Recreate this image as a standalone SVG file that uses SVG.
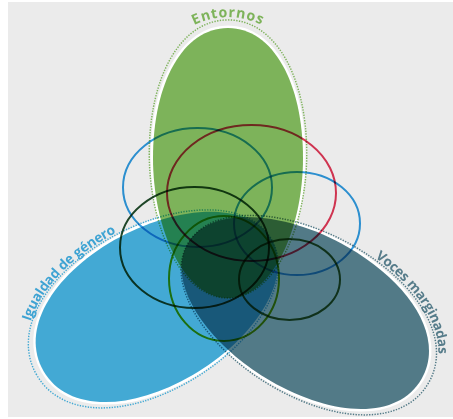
<svg xmlns="http://www.w3.org/2000/svg" width="453" height="419" viewBox="0 0 453 419">
<defs>
<path id="egg" d="M0,0 C45,0 75,55 75,130 C75,200 45,270 0,270 C-45,270 -75,200 -75,130 C-75,55 -45,0 0,0 Z"/>
<path id="arcE" d="M153,92 A75,75 0 0 1 303,92"/>
<path id="arcI" d="M0,-9.5 C49.5,-9.5 83.6,46.8 83.6,122.7 L83.6,200"/>
<path id="arcV" d="M-83,150 L-83,125.8 C-83,47.5 -50.3,-10 0,-10 L30,-10"/>
</defs>
<style>
.mx{mix-blend-mode:multiply}
.halo{fill:none;stroke:#ffffff;stroke-width:5}
.under{fill:#ebebeb}
.dot{fill:none;stroke-width:1.4;stroke-dasharray:1.3 1.3;mix-blend-mode:multiply}
.ring{fill:none;stroke-width:2;mix-blend-mode:multiply}
.lbl{font-family:"Open Sans","Liberation Sans",sans-serif;font-weight:700;font-size:13.6px;letter-spacing:-0.2px}
</style>
<rect x="0" y="0" width="453" height="419" fill="#ffffff"/>
<rect x="8" y="2" width="445" height="415" fill="#ebebeb"/>
<g id="halos">
  <use href="#egg" class="halo" transform="translate(228,28)"/>
  <use href="#egg" class="halo" transform="translate(43.5,371) rotate(-120) scale(1.04,0.975)"/>
  <use href="#egg" class="halo" transform="translate(421.5,378.9) rotate(120) scale(1.03,1)"/>
  <use href="#egg" class="under" transform="translate(228,28)"/>
  <use href="#egg" class="under" transform="translate(43.5,371) rotate(-120) scale(1.04,0.975)"/>
  <use href="#egg" class="under" transform="translate(421.5,378.9) rotate(120) scale(1.03,1)"/>
</g>
<g id="entornos">
  <use href="#egg" class="dot" stroke="#88c262" transform="translate(228,28) translate(0,270) scale(1.05,1.03) translate(0,-270)"/>
  <use href="#egg" class="mx" fill="#88c262" transform="translate(228,28)"/>
  <text class="lbl" fill="#7db35a" style="font-size:14.2px;letter-spacing:0.8px"><textPath href="#arcE" startOffset="50%" text-anchor="middle">Entornos</textPath></text>
</g>
<g id="igualdad">
  <use href="#egg" class="dot" stroke="#48b8e6" transform="translate(43.5,371) rotate(-120) scale(1.04,0.975) translate(0,270) scale(1.05,1.03) translate(0,-270)"/>
  <use href="#egg" class="mx" fill="#48b8e6" transform="translate(43.5,371) rotate(-120) scale(1.04,0.975)"/>
  <text class="lbl" fill="#3ea3d3" transform="translate(43.5,371) rotate(-120)"><textPath href="#arcI" startOffset="56">Igualdad de género</textPath></text>
</g>
<g id="voces">
  <use href="#egg" class="dot" stroke="#598492" transform="translate(421.5,378.9) rotate(120) scale(1.03,1) translate(0,270) scale(1.05,1.03) translate(0,-270)"/>
  <use href="#egg" class="mx" fill="#598492" transform="translate(421.5,378.9) rotate(120) scale(1.03,1)"/>
  <text class="lbl" fill="#567c8a" transform="translate(421.5,378.9) rotate(120)"><textPath href="#arcV" startOffset="49">Voces marginadas</textPath></text>
</g>
<g id="rings">
  <ellipse id="ring-blue-1" class="ring" cx="197.5" cy="187.5" rx="74.5" ry="59.5" stroke="#2f9be1"/>
  <ellipse id="ring-red" class="ring" cx="251.5" cy="193" rx="84.5" ry="68" stroke="#e13857"/>
  <ellipse id="ring-blue-2" class="ring" cx="297" cy="223.5" rx="63" ry="51.5" stroke="#2f9be1"/>
  <ellipse id="ring-dark-1" class="ring" cx="194.5" cy="247.5" rx="74.5" ry="60.5" stroke="#214c2b"/>
  <ellipse id="ring-olive" class="ring" cx="224" cy="278.5" rx="55" ry="62.5" stroke="#64a714"/>
  <ellipse id="ring-dark-2" class="ring" cx="289.5" cy="279.5" rx="50.5" ry="40.5" stroke="#2f6632"/>
</g>
</svg>
